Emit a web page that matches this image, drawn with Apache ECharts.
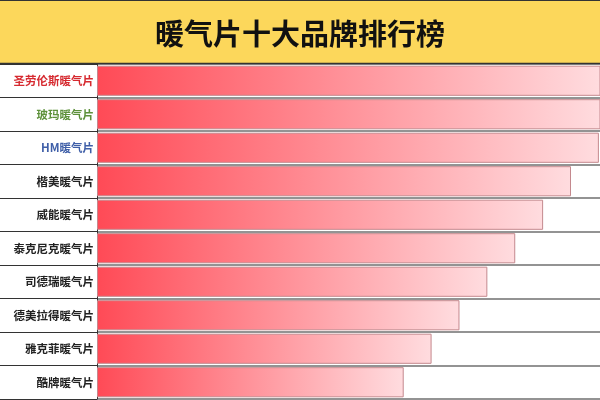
<!DOCTYPE html>
<html>
<head>
<meta charset="utf-8">
<script src="https://cdn.jsdelivr.net/npm/echarts@6/dist/echarts.min.js"></script>
<style>
html,body{margin:0;padding:0;background:#fff;}
#chart{width:600px;height:400px;}
</style>
</head>
<body>
<div id="chart"></div>
<script>
var titleText = '暖气片十大品牌排行榜';
var brands = ['圣劳伦斯暖气片','玻玛暖气片','HM暖气片','楷美暖气片','威能暖气片','泰克尼克暖气片','司德瑞暖气片','德美拉得暖气片','雅克菲暖气片','酷牌暖气片'];
var scores = [100, 95, 90, 85, 80, 75, 70, 65, 60, 55];

var labelColors = ['#d62a30', '#5e913b', '#3f5fa8'];
var defaultLabelColor = '#222222';

var chart = echarts.init(document.getElementById('chart'), null, {renderer: 'canvas'});

var catData = brands.map(function (b, i) {
  return {value: b, textStyle: {color: labelColors[i] || defaultLabelColor}};
});

var option = {
  backgroundColor: '#ffffff',
  animation: false,
  title: {
    text: titleText,
    left: 'center',
    top: 14,
    textStyle: {
      fontFamily: 'Noto Sans CJK SC',
      fontSize: 29,
      fontWeight: 'bold',
      color: '#111111'
    }
  },
  graphic: [
    {
      type: 'rect',
      z: -1,
      shape: {x: 0, y: 0, width: 600, height: 63},
      style: {fill: '#fcd75b'}
    },
    {
      type: 'line',
      shape: {x1: 0, y1: 0.5, x2: 600, y2: 0.5},
      style: {stroke: '#333333', lineWidth: 1}
    },
    {
      type: 'line',
      z: 10,
      shape: {x1: 0, y1: 63.5, x2: 600, y2: 63.5},
      style: {stroke: '#333333', lineWidth: 1.5}
    }
  ],
  grid: {left: 97, right: 0, top: 64, bottom: 1, containLabel: false},
  xAxis: {
    type: 'value',
    min: 0,
    max: 90.2,
    show: false
  },
  yAxis: {
    type: 'category',
    inverse: true,
    data: catData,
    axisLine: {show: true, lineStyle: {color: '#333333', width: 1}},
    axisTick: {show: true, length: 97, lineStyle: {color: '#333333', width: 1}},
    splitLine: {show: true, lineStyle: {color: '#6f6f6f', width: 1.5}},
    axisLabel: {
      margin: 3,
      fontFamily: 'Noto Sans CJK SC',
      fontSize: 11.5,
      fontWeight: 'bold'
    }
  },
  series: [{
    type: 'bar',
    data: scores,
    clip: true,
    barCategoryGap: '10%',
    itemStyle: {
      color: {
        type: 'linear', x: 0, y: 0, x2: 1, y2: 0,
        colorStops: [
          {offset: 0, color: '#ff4a56'},
          {offset: 1, color: '#ffdcdf'}
        ]
      },
      borderColor: '#c4898e',
      borderWidth: 1
    }
  }]
};
chart.setOption(option);
</script>
</body>
</html>
